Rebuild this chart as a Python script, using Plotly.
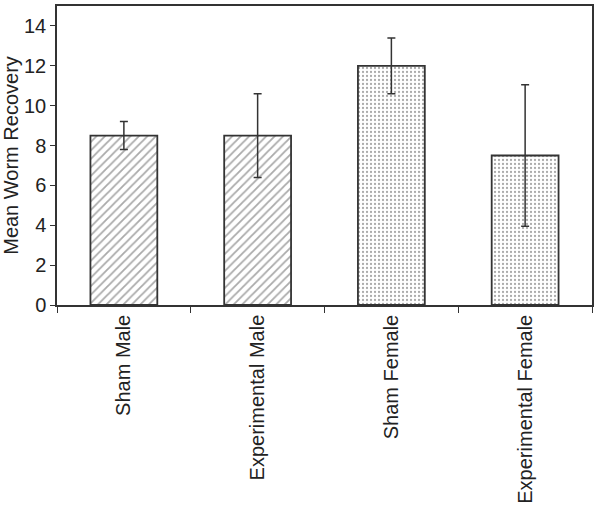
import plotly.graph_objects as go

categories = ["Sham Male", "Experimental Male", "Sham Female", "Experimental Female"]
means = [8.5, 8.5, 12.0, 7.5]
errors = [0.7, 2.1, 1.4, 3.55]
patterns = ["/", "/", ".", "."]

ink = "#333333"

fig = go.Figure()
fig.add_trace(go.Bar(
    x=categories,
    y=means,
    width=0.5,
    marker=dict(
        color="white",
        line=dict(color=ink, width=1.8),
        pattern=dict(shape=patterns, fgcolor="#555555", bgcolor="white",
                     size=[6, 6, 4, 4], solidity=[0.3, 0.3, 0.25, 0.25]),
    ),
    error_y=dict(type="data", array=errors, visible=True, color=ink,
                 thickness=1.5, width=4),
    showlegend=False,
))

fig.update_layout(
    width=600, height=516,
    margin=dict(l=57, r=8, t=6, b=211, autoexpand=False),
    paper_bgcolor="white", plot_bgcolor="white",
    font=dict(family="Liberation Sans, Arial, sans-serif", size=20, color="#222222"),
    bargap=0.5,
)
fig.update_xaxes(
    tickangle=-90, tickson="boundaries", ticks="outside", ticklen=6,
    tickcolor=ink, showline=True, linecolor=ink, linewidth=1.5, mirror=True,
    showgrid=False, tickfont=dict(size=20), automargin=False,
)
fig.update_yaxes(
    range=[0, 15], tickvals=[0, 2, 4, 6, 8, 10, 12, 14],
    ticks="outside", ticklen=5, tickcolor=ink,
    showline=True, linecolor=ink, linewidth=1.5, mirror=True,
    showgrid=False, zeroline=False, automargin=False,
    title=dict(text="Mean Worm Recovery", font=dict(size=20), standoff=6),
    tickfont=dict(size=20),
)

fig.write_html("out.html", config={"displayModeBar": False},
               post_script="document.body.style.margin='0px';")
